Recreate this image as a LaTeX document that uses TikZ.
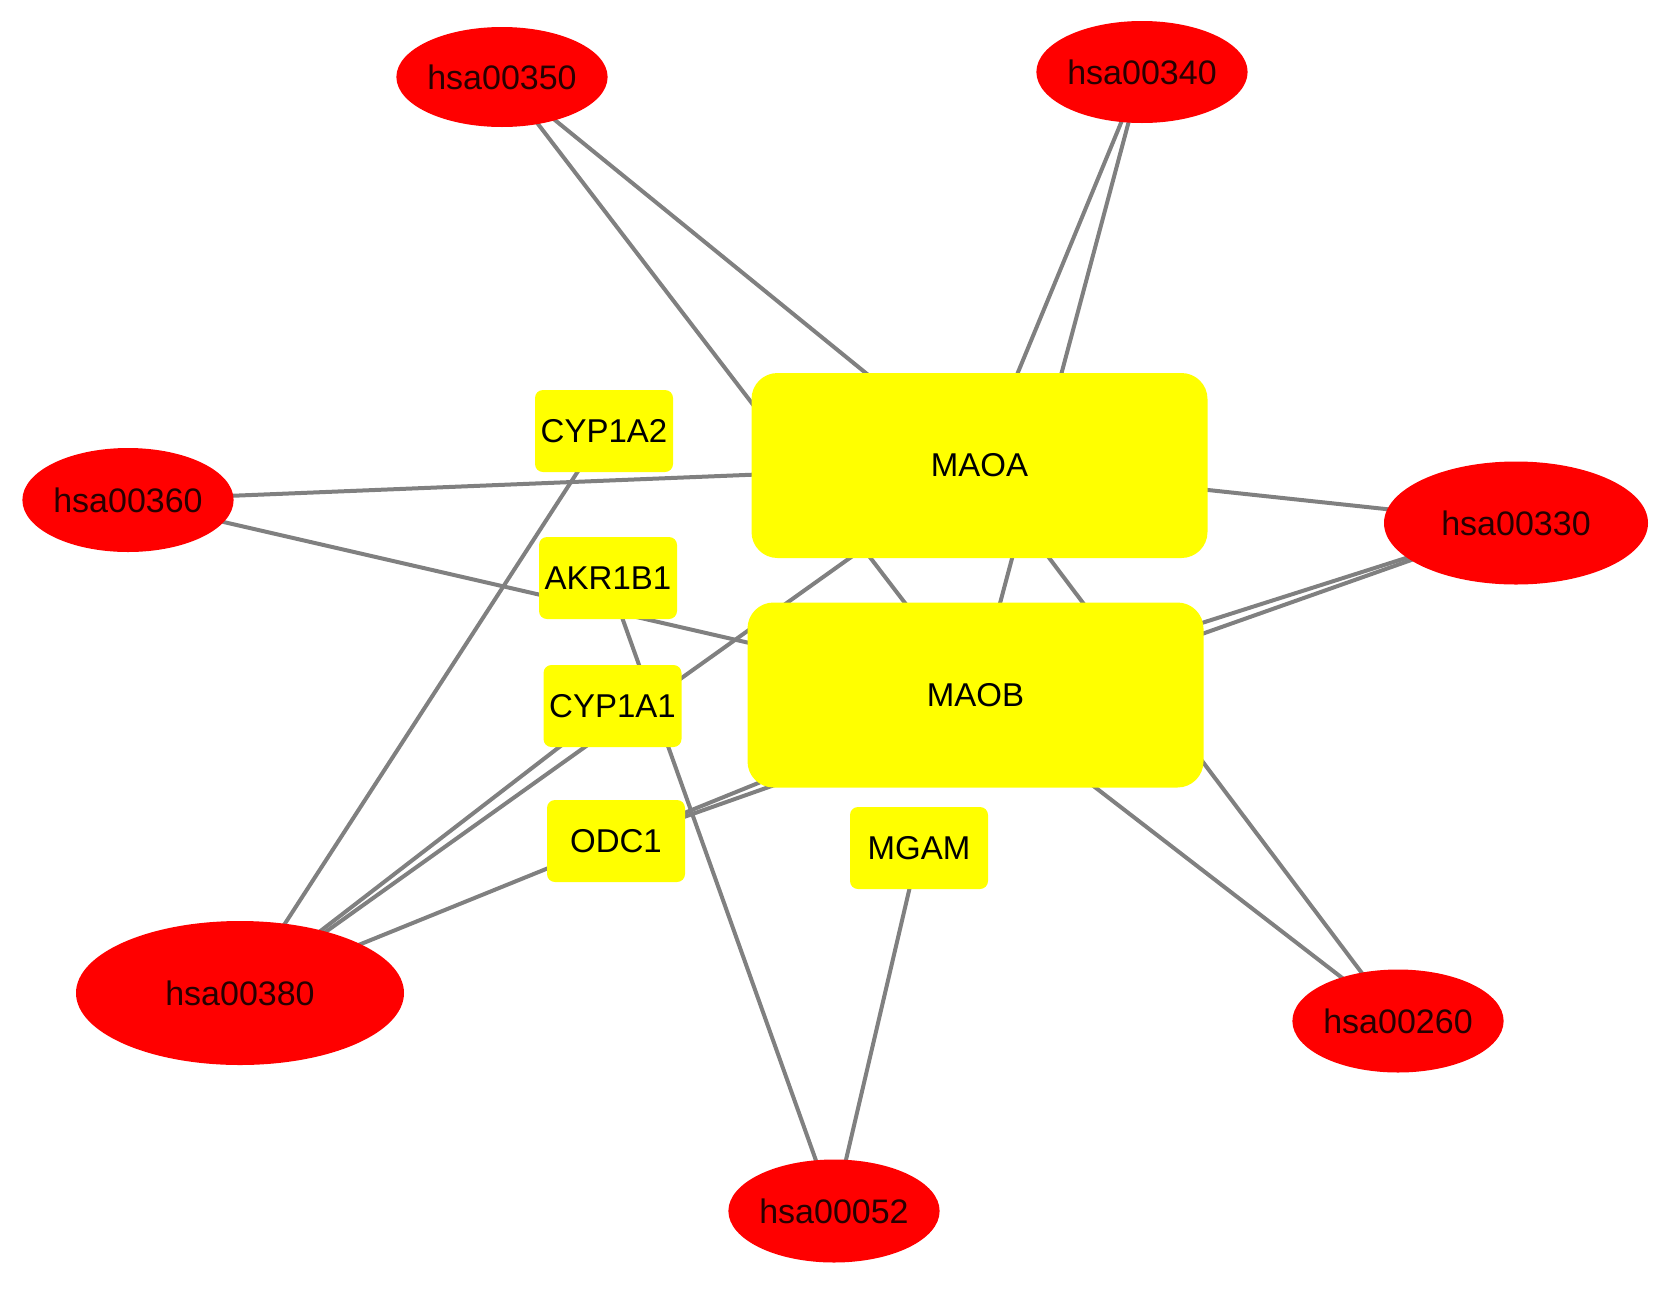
\documentclass[tikz,border=0pt]{standalone}
\usepackage{fontspec}
\setmainfont{Liberation Sans}
\usetikzlibrary{shapes.geometric}
\definecolor{nodered}{RGB}{255,0,0}
\definecolor{nodeyellow}{RGB}{255,255,0}
\definecolor{edgegray}{RGB}{128,128,128}
\definecolor{pathtext}{RGB}{40,0,0}
\pgfdeclarelayer{background}
\pgfsetlayers{background,main}
\tikzset{
  pathway/.style={ellipse, fill=nodered, draw=none, inner sep=0pt, text=pathtext,
    font=\fontsize{17}{20}\selectfont},
  gene/.style={rectangle, fill=nodeyellow, draw=none, inner sep=0pt, rounded corners=4pt,
    text=black, font=\fontsize{16.5}{20}\selectfont, minimum width=69pt, minimum height=41pt},
  biggene/.style={gene, rounded corners=13pt, minimum width=228pt, minimum height=92.5pt},
  edge/.style={draw=edgegray, line width=2pt}
}
\begin{document}
\begin{tikzpicture}[x=0.5pt,y=-0.5pt]
\useasboundingbox (0,0) rectangle (1677,1291);
% pathways
\node[pathway, minimum width=99pt, minimum height=50pt] (p350) at (502,77) {hsa00350};
\node[pathway, minimum width=100pt, minimum height=51pt] (p340) at (1142,72) {hsa00340};
\node[pathway, minimum width=100pt, minimum height=52pt] (p360) at (128,500) {hsa00360};
\node[pathway, minimum width=132pt, minimum height=61.5pt] (p330) at (1516,523) {hsa00330};
\node[pathway, minimum width=164pt, minimum height=72pt] (p380) at (240,993) {hsa00380};
\node[pathway, minimum width=100.5pt, minimum height=51.5pt] (p260) at (1398,1021) {hsa00260};
\node[pathway, minimum width=100pt, minimum height=51.5pt] (p052) at (834,1211) {hsa00052};
% genes
\node[biggene] (maoa) at (979.5,465.5) {MAOA};
\node[biggene] (maob) at (975.5,695) {MAOB};
\node[gene] (cyp1a2) at (604,431) {CYP1A2};
\node[gene] (akr1b1) at (608,578) {AKR1B1};
\node[gene] (cyp1a1) at (612.5,706) {CYP1A1};
\node[gene] (odc1) at (616,841) {ODC1};
\node[gene] (mgam) at (919,848) {MGAM};
% edges
\begin{pgfonlayer}{background}
\draw[edge] (p350.center) -- (maoa.center);
\draw[edge] (p350.center) -- (maob.center);
\draw[edge] (p340.center) -- (maoa.center);
\draw[edge] (p340.center) -- (maob.center);
\draw[edge] (p360.center) -- (maoa.center);
\draw[edge] (p360.center) -- (maob.center);
\draw[edge] (p330.center) -- (maoa.center);
\draw[edge] (p330.center) -- (maob.center);
\draw[edge] (p330.center) -- (odc1.center);
\draw[edge] (p380.center) -- (cyp1a2.center);
\draw[edge] (p380.center) -- (cyp1a1.center);
\draw[edge] (p380.center) -- (maoa.center);
\draw[edge] (p380.center) -- (maob.center);
\draw[edge] (p260.center) -- (maoa.center);
\draw[edge] (p260.center) -- (maob.center);
\draw[edge] (p052.center) -- (akr1b1.center);
\draw[edge] (p052.center) -- (mgam.center);
\end{pgfonlayer}
\end{tikzpicture}
\end{document}
